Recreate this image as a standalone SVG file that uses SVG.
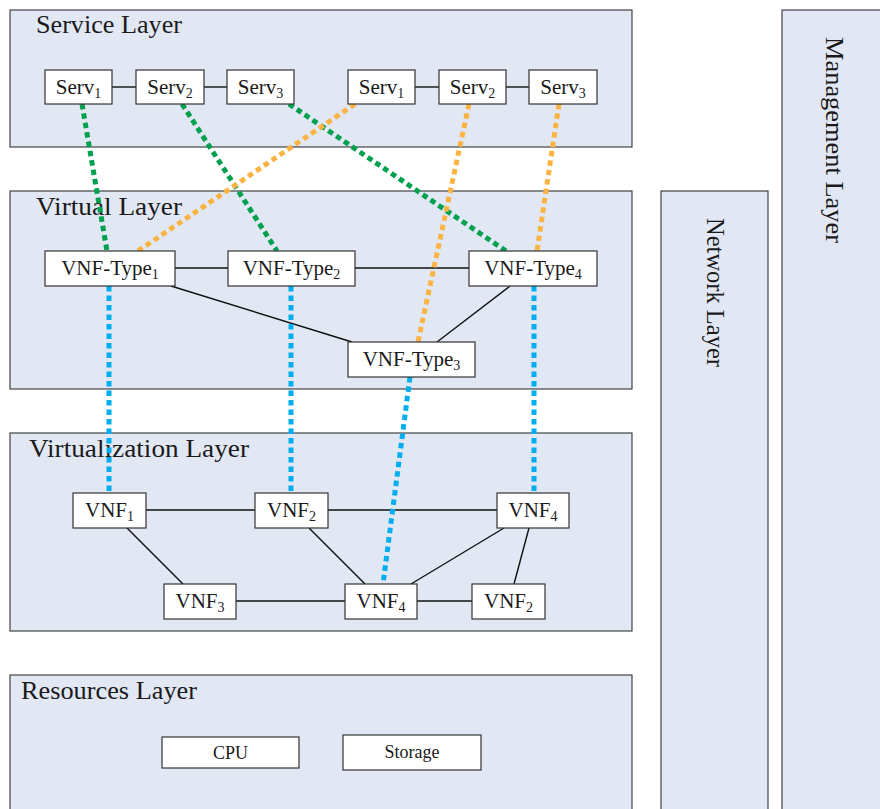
<svg xmlns="http://www.w3.org/2000/svg" width="880" height="809" viewBox="0 0 880 809">
<style>
.layer{fill:#e1e7f3;stroke:#333;stroke-width:1.1}
.node{fill:#fff;stroke:#333;stroke-width:1.2}
.lbl{font-family:"Liberation Serif","Times New Roman",serif;font-size:25px;fill:#1a1a1a}
.t{font-family:"Liberation Serif","Times New Roman",serif;font-size:21px;fill:#1a1a1a;text-anchor:middle}
.sub{font-size:14px}
.edge{stroke:#111;stroke-width:1.4;fill:none}
.g{stroke:#00a04f;stroke-width:5;stroke-dasharray:5.5 4;fill:none}
.o{stroke:#fbb444;stroke-width:5;stroke-dasharray:5.5 4;fill:none}
.b{stroke:#00aeef;stroke-width:5;stroke-dasharray:5.5 4;fill:none}
</style>
<g id="layers">
<rect id="service-layer" class="layer" x="10" y="10" width="622" height="137"/>
<rect id="virtual-layer" class="layer" x="10" y="191" width="622" height="198"/>
<rect id="virtualization-layer" class="layer" x="10" y="433" width="622" height="198"/>
<rect id="resources-layer" class="layer" x="10" y="675" width="622" height="150"/>
<rect id="network-layer" class="layer" x="661" y="191" width="107" height="640"/>
<rect id="management-layer" class="layer" x="782" y="10" width="110" height="820"/>
<text class="lbl" x="36" y="33" textLength="146" lengthAdjust="spacingAndGlyphs">Service Layer</text>
<text class="lbl" x="36" y="215" textLength="146" lengthAdjust="spacingAndGlyphs">Virtual Layer</text>
<text class="lbl" x="29" y="457" textLength="220" lengthAdjust="spacingAndGlyphs">Virtualization Layer</text>
<text class="lbl" x="21" y="699" textLength="176" lengthAdjust="spacingAndGlyphs">Resources Layer</text>
<text class="lbl" transform="translate(707,218) rotate(90)" textLength="149" lengthAdjust="spacingAndGlyphs">Network Layer</text>
<text class="lbl" transform="translate(826,37) rotate(90)" textLength="206" lengthAdjust="spacingAndGlyphs">Management Layer</text>
</g>
<g id="connectors">
<line class="edge" x1="112" y1="87" x2="136" y2="87"/>
<line class="edge" x1="204" y1="87" x2="227" y2="87"/>
<line class="edge" x1="415" y1="87" x2="439" y2="87"/>
<line class="edge" x1="506" y1="87" x2="529" y2="87"/>
<line class="edge" x1="175" y1="268" x2="228" y2="268"/>
<line class="edge" x1="355" y1="268" x2="469" y2="268"/>
<line class="edge" x1="171" y1="286" x2="352" y2="342"/>
<line class="edge" x1="510" y1="286" x2="437" y2="342"/>
<line class="edge" x1="146" y1="510" x2="255" y2="510"/>
<line class="edge" x1="328" y1="510" x2="497" y2="510"/>
<line class="edge" x1="127" y1="528" x2="183" y2="584"/>
<line class="edge" x1="309" y1="528" x2="365" y2="584"/>
<line class="edge" x1="504" y1="528" x2="411" y2="584"/>
<line class="edge" x1="529" y1="528" x2="514" y2="584"/>
<line class="edge" x1="236" y1="601" x2="345" y2="601"/>
<line class="edge" x1="417" y1="601" x2="472" y2="601"/>
<line class="g" x1="82" y1="104" x2="107" y2="251"/>
<line class="g" x1="182" y1="104" x2="277" y2="251"/>
<line class="g" x1="289" y1="104" x2="506" y2="251"/>
<line class="o" x1="355" y1="104" x2="138" y2="251"/>
<line class="o" x1="469" y1="104" x2="418" y2="342"/>
<line class="o" x1="559" y1="104" x2="537" y2="251"/>
<line class="b" x1="109" y1="286" x2="109" y2="493"/>
<line class="b" x1="291" y1="286" x2="291" y2="493"/>
<line class="b" x1="534" y1="286" x2="534" y2="493"/>
<line class="b" x1="410" y1="377" x2="383" y2="584"/>
</g>
<g id="serv1a"><rect class="node" x="45" y="70" width="67" height="34"/><text class="t" x="78.5" y="94">Serv<tspan class="sub" dy="4">1</tspan></text></g>
<g id="serv2a"><rect class="node" x="136" y="70" width="68" height="34"/><text class="t" x="170" y="94">Serv<tspan class="sub" dy="4">2</tspan></text></g>
<g id="serv3a"><rect class="node" x="227" y="70" width="67" height="34"/><text class="t" x="260.5" y="94">Serv<tspan class="sub" dy="4">3</tspan></text></g>
<g id="serv1b"><rect class="node" x="348" y="70" width="67" height="34"/><text class="t" x="381.5" y="94">Serv<tspan class="sub" dy="4">1</tspan></text></g>
<g id="serv2b"><rect class="node" x="439" y="70" width="67" height="34"/><text class="t" x="472.5" y="94">Serv<tspan class="sub" dy="4">2</tspan></text></g>
<g id="serv3b"><rect class="node" x="529" y="70" width="68" height="34"/><text class="t" x="563" y="94">Serv<tspan class="sub" dy="4">3</tspan></text></g>
<g id="vnftype1"><rect class="node" x="45" y="251" width="130" height="35"/><text class="t" x="110" y="275">VNF-Type<tspan class="sub" dy="4">1</tspan></text></g>
<g id="vnftype2"><rect class="node" x="228" y="251" width="127" height="35"/><text class="t" x="291.5" y="275">VNF-Type<tspan class="sub" dy="4">2</tspan></text></g>
<g id="vnftype4"><rect class="node" x="469" y="251" width="128" height="35"/><text class="t" x="533" y="275">VNF-Type<tspan class="sub" dy="4">4</tspan></text></g>
<g id="vnftype3"><rect class="node" x="348" y="342" width="127" height="35"/><text class="t" x="411.5" y="366">VNF-Type<tspan class="sub" dy="4">3</tspan></text></g>
<g id="vnf1"><rect class="node" x="73" y="493" width="73" height="35"/><text class="t" x="109.5" y="517">VNF<tspan class="sub" dy="4">1</tspan></text></g>
<g id="vnf2a"><rect class="node" x="255" y="493" width="73" height="35"/><text class="t" x="291.5" y="517">VNF<tspan class="sub" dy="4">2</tspan></text></g>
<g id="vnf4a"><rect class="node" x="497" y="493" width="72" height="35"/><text class="t" x="533" y="517">VNF<tspan class="sub" dy="4">4</tspan></text></g>
<g id="vnf3"><rect class="node" x="164" y="584" width="72" height="35"/><text class="t" x="200" y="608">VNF<tspan class="sub" dy="4">3</tspan></text></g>
<g id="vnf4b"><rect class="node" x="345" y="584" width="72" height="35"/><text class="t" x="381" y="608">VNF<tspan class="sub" dy="4">4</tspan></text></g>
<g id="vnf2b"><rect class="node" x="472" y="584" width="73" height="35"/><text class="t" x="508.5" y="608">VNF<tspan class="sub" dy="4">2</tspan></text></g>
<g id="cpu"><rect class="node" x="162" y="737" width="137" height="31"/><text class="t" x="230.5" y="759" style="font-size:18px">CPU</text></g>
<g id="storage"><rect class="node" x="343" y="735" width="138" height="35"/><text class="t" x="412" y="758" style="font-size:18px">Storage</text></g>
</svg>
